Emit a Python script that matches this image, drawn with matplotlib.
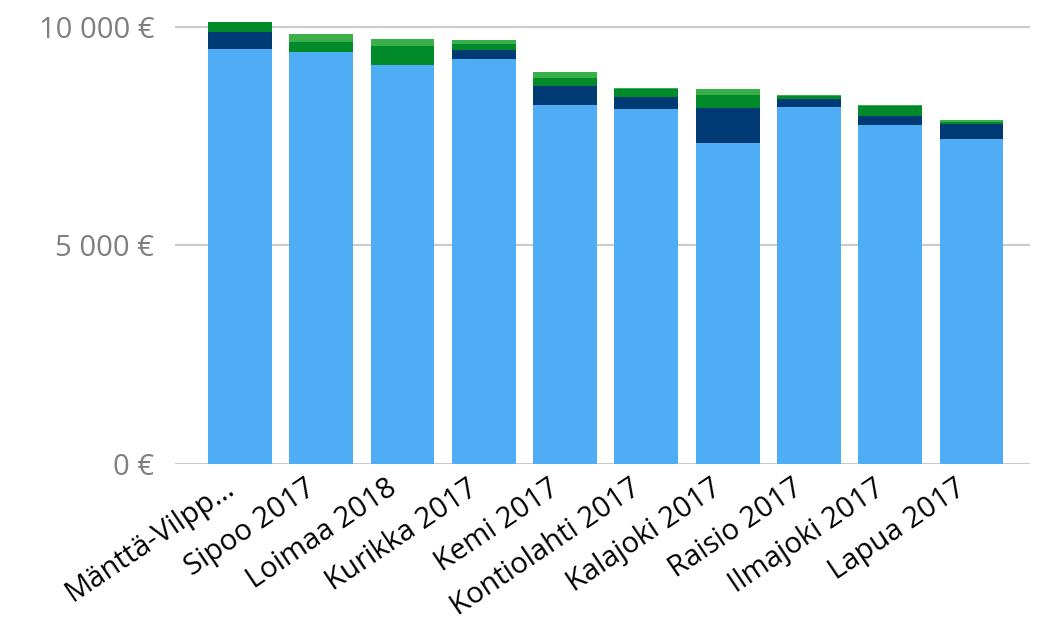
import matplotlib.pyplot as plt
import matplotlib.transforms as mtrans
import numpy as np

plt.rcParams['font.family'] = ['Open Sans', 'DejaVu Sans']

kunnat = ['Mänttä-Vilpp…', 'Sipoo 2017', 'Loimaa 2018', 'Kurikka 2017', 'Kemi 2017',
          'Kontiolahti 2017', 'Kalajoki 2017', 'Raisio 2017', 'Ilmajoki 2017', 'Lapua 2017']
osa1 = [9500, 9430, 9130, 9270, 8215, 8125, 7345, 8170, 7755, 7435]
osa2 = [390, 0, 0, 205, 435, 275, 800, 185, 205, 345]
osa3 = [210, 230, 435, 140, 185, 185, 300, 70, 230, 45]
osa4 = [15, 185, 160, 90, 135, 25, 135, 10, 25, 45]
varit = ['#4eadf5', '#003a75', '#008a2a', '#3ab04a']
yticks = [0, 5000, 10000]
ylabels = ['0 €', '5 000 €', '10 000 €']

fig = plt.figure(figsize=(10.38, 6.2), dpi=100)
ax = fig.add_axes([175/1038, 156/620, 855/1038, 446/620])

x = np.arange(len(kunnat))
pohja = np.zeros(len(kunnat))
for arvot, vari in zip([osa1, osa2, osa3, osa4], varit):
	ax.bar(x, arvot, bottom=pohja, width=0.785, color=vari, zorder=3)
	pohja += np.array(arvot)

ax.set_ylim(0, 10200)
ax.set_xlim(-0.8, 9.72)
ax.set_yticks(yticks)
ax.set_yticklabels(ylabels, fontsize=21, color='#7f7f7f')
ax.set_xticks(x)
ax.set_xticklabels(kunnat, rotation=34, ha='right', rotation_mode='anchor', fontsize=21)
ax.tick_params(axis='both', length=0)
ax.tick_params(axis='y', pad=15)
ax.tick_params(axis='x', pad=7)
# siirretään nimiä vähän vasemmalle
siirto = mtrans.ScaledTranslation(-0.17, 0, fig.dpi_scale_trans)
for t in ax.get_xticklabels():
	t.set_transform(t.get_transform() + siirto)
for s in ax.spines.values():
	s.set_visible(False)
ax.grid(axis='y', color='#c8ccc8', linewidth=1.5, zorder=0)

fig.savefig('out.png')
